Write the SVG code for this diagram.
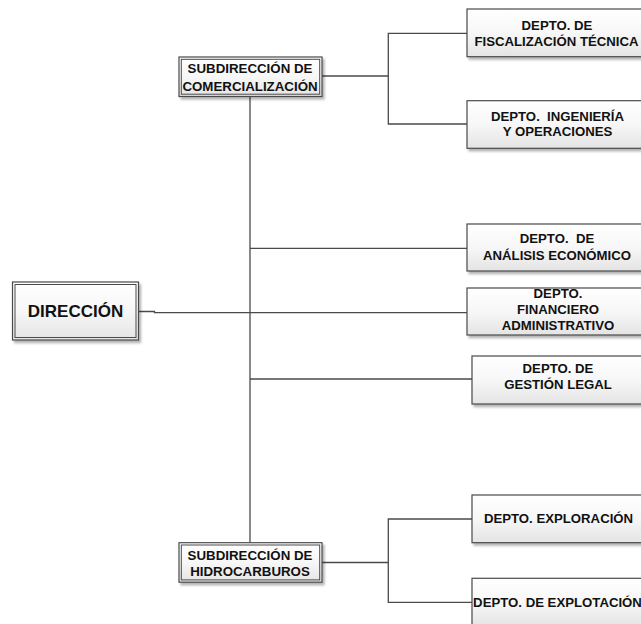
<svg xmlns="http://www.w3.org/2000/svg" width="641" height="624" viewBox="0 0 641 624">
  <defs>
    <linearGradient id="g" x1="0" y1="0" x2="0" y2="1">
      <stop offset="0" stop-color="#ffffff"/>
      <stop offset="0.5" stop-color="#f7f7f7"/>
      <stop offset="1" stop-color="#e4e4e4"/>
    </linearGradient>
    <filter id="sh" x="-10%" y="-10%" width="130%" height="140%">
      <feDropShadow dx="2" dy="2.5" stdDeviation="1" flood-color="#000" flood-opacity="0.3"/>
    </filter>
  </defs>
  <style>
    .box{fill:url(#g);stroke:#4a4a4a;stroke-width:1.2;filter:url(#sh)}
    .inner{fill:none;stroke:#4a4a4a;stroke-width:1}
    .t{font-family:"Liberation Sans",Arial,sans-serif;font-weight:bold;fill:#111;text-anchor:middle}
    .dept{font-size:13.2px}
    .sub{font-size:13.3px}
    .dir{font-size:17px}
    .conn{fill:none;stroke:#4a4a4a;stroke-width:1.3}
  </style>
  <rect width="641" height="624" fill="#ffffff"/>

  <g id="connectors">
    <path class="conn" d="M139,311.5 H154.5 V312.7 H467"/>
    <path class="conn" d="M250,96.7 V542.7"/>
    <path class="conn" d="M250,248.3 H467"/>
    <path class="conn" d="M250,379 H472"/>
    <path class="conn" d="M322,76 H388.3"/>
    <path class="conn" d="M467,33.3 H388.3 V124 H467"/>
    <path class="conn" d="M322,562.5 H388.3"/>
    <path class="conn" d="M472,519 H388.3 V602.3 H472"/>
  </g>

  <g id="direccion">
    <rect class="box" x="12.5" y="282" width="126" height="58"/>
    <rect class="inner" x="15" y="284.5" width="121" height="53"/>
    <text class="t dir" x="75.5" y="317.3">DIRECCIÓN</text>
  </g>

  <g id="sub-comercializacion">
    <rect class="box" x="179" y="57" width="143" height="39.5"/>
    <rect class="inner" x="181.3" y="59.3" width="138.4" height="34.9"/>
    <text class="t sub" x="250" y="73.3">SUBDIRECCIÓN DE</text>
    <text class="t sub" x="250" y="90.5">COMERCIALIZACIÓN</text>
  </g>

  <g id="sub-hidrocarburos">
    <rect class="box" x="179" y="542.7" width="143" height="39.5"/>
    <rect class="inner" x="181.3" y="545" width="138.4" height="34.9"/>
    <text class="t sub" x="250" y="560">SUBDIRECCIÓN DE</text>
    <text class="t sub" x="250" y="575.7">HIDROCARBUROS</text>
  </g>

  <g id="depto-fiscalizacion">
    <rect class="box" x="467" y="9" width="182" height="47.7"/>
    <text class="t dept" x="557" y="29.5">DEPTO. DE</text>
    <text class="t dept" x="556.5" y="45.5">FISCALIZACIÓN TÉCNICA</text>
  </g>

  <g id="depto-ingenieria">
    <rect class="box" x="467" y="100.7" width="182" height="47.6"/>
    <text class="t dept" x="557.5" y="120.5" xml:space="preserve">DEPTO.  INGENIERÍA</text>
    <text class="t dept" x="557.5" y="136">Y OPERACIONES</text>
  </g>

  <g id="depto-analisis">
    <rect class="box" x="467" y="224" width="182" height="47"/>
    <text class="t dept" x="557" y="243.3" xml:space="preserve">DEPTO.  DE</text>
    <text class="t dept" x="557" y="260">ANÁLISIS ECONÓMICO</text>
  </g>

  <g id="depto-financiero">
    <rect class="box" x="467" y="288" width="182" height="47"/>
    <text class="t dept" x="558" y="298.3">DEPTO.</text>
    <text class="t dept" x="558" y="314.3">FINANCIERO</text>
    <text class="t dept" x="558" y="330">ADMINISTRATIVO</text>
  </g>

  <g id="depto-gestion">
    <rect class="box" x="472" y="356" width="182" height="48"/>
    <text class="t dept" x="558" y="373.3">DEPTO. DE</text>
    <text class="t dept" x="558" y="389">GESTIÓN LEGAL</text>
  </g>

  <g id="depto-exploracion">
    <rect class="box" x="472" y="495" width="182" height="47.7"/>
    <text class="t dept" x="558.5" y="523.3">DEPTO. EXPLORACIÓN</text>
  </g>

  <g id="depto-explotacion">
    <rect class="box" x="472" y="578.3" width="182" height="48"/>
    <text class="t dept" x="557.5" y="606.7">DEPTO. DE EXPLOTACIÓN</text>
  </g>
</svg>
